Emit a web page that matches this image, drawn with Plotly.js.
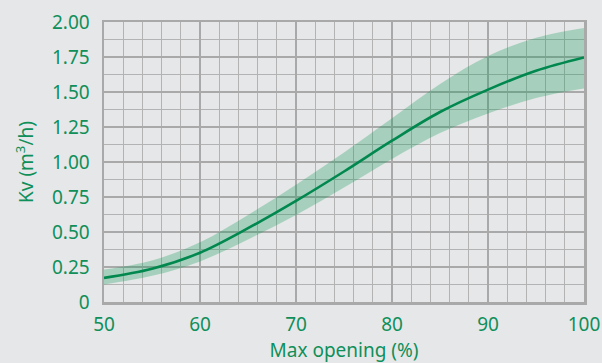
<!DOCTYPE html>
<html>
<head>
<meta charset="utf-8">
<script src="https://cdn.plot.ly/plotly-3.0.1.min.js"></script>
<style>
html,body{margin:0;padding:0;background:#e6e7e8;}
#chart{width:602px;height:363px;}
</style>
</head>
<body>
<div id="chart"></div>
<script>
const opening = [50, 55, 60, 65, 70, 75, 80, 85, 90, 95, 100];
const kvMid   = [0.172, 0.237, 0.352, 0.527, 0.722, 0.932, 1.152, 1.357, 1.517, 1.652, 1.747];
const kvUpper = [0.232, 0.297, 0.427, 0.622, 0.837, 1.067, 1.312, 1.557, 1.757, 1.887, 1.957];
const kvLower = [0.125, 0.187, 0.290, 0.447, 0.622, 0.817, 1.022, 1.207, 1.347, 1.457, 1.525];
const yTickVals = [0, 0.25, 0.5, 0.75, 1, 1.25, 1.5, 1.75, 2];
const yTickText = ['0', '0.25', '0.50', '0.75', '1.00', '1.25', '1.50', '1.75', '2.00'];
const xTickVals = [50, 60, 70, 80, 90, 100];

const green = '#00884f';
const textGreen = '#0f8f5a';
const font = 'Noto Sans, Open Sans, sans-serif';

const traces = [
  {x: opening, y: kvLower, mode: 'lines', line: {width: 0, shape: 'spline', smoothing: 1}, hoverinfo: 'skip', showlegend: false},
  {x: opening, y: kvUpper, mode: 'lines', line: {width: 0, shape: 'spline', smoothing: 1}, fill: 'tonexty', fillcolor: 'rgba(0,150,80,0.28)', hoverinfo: 'skip', showlegend: false},
  {x: opening, y: kvMid, mode: 'lines', line: {width: 2.6, color: green, shape: 'spline', smoothing: 1}, showlegend: false}
];

const layout = {
  width: 602, height: 363,
  margin: {l: 104, r: 18, t: 22, b: 61},
  paper_bgcolor: '#e6e7e8',
  plot_bgcolor: '#e6e7e8',
  font: {family: font, color: textGreen, size: 18},
  xaxis: {
    range: [50, 100], tickvals: xTickVals, ticks: '', ticklabelstandoff: 4,
    showgrid: true, gridcolor: '#a9a9a9', gridwidth: 2.2,
    minor: {dtick: 2, tick0: 50, showgrid: true, gridcolor: '#b3b3b3', gridwidth: 1},
    showline: true, mirror: true, linecolor: '#a9a9a9', linewidth: 2.5,
    zeroline: false,
    tickfont: {size: 19, color: textGreen},
    title: {text: 'Max opening (%)', font: {size: 19, color: textGreen}, standoff: 6}
  },
  yaxis: {
    range: [0, 2], tickvals: yTickVals, ticktext: yTickText, ticks: '', ticklabelstandoff: 8,
    showgrid: true, gridcolor: '#a9a9a9', gridwidth: 2.2,
    minor: {dtick: 0.125, tick0: 0, showgrid: true, gridcolor: '#b3b3b3', gridwidth: 1},
    showline: true, mirror: true, linecolor: '#a9a9a9', linewidth: 2.5,
    zeroline: false,
    tickfont: {size: 19, color: textGreen},
    title: {text: 'Kv (m<sup>3</sup>/h)', font: {size: 19, color: textGreen}, standoff: 14}
  }
};

Plotly.newPlot('chart', traces, layout, {staticPlot: true, displayModeBar: false});
</script>
</body>
</html>
